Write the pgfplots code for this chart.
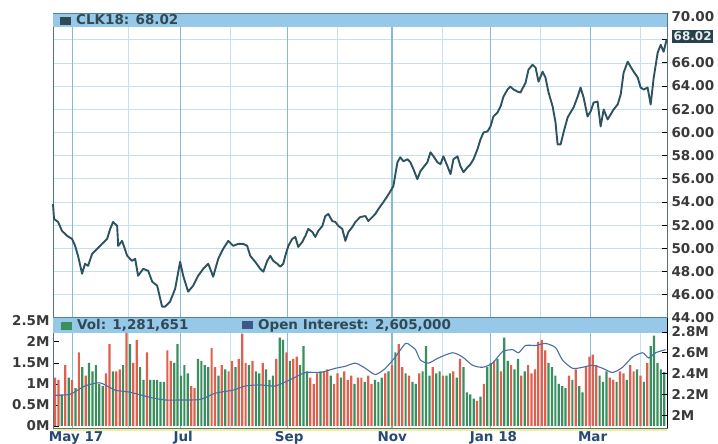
\documentclass[border=0pt]{standalone}
\usepackage{pgfplots}
\pgfplotsset{compat=1.18}
\usepackage{pgfplotstable}
\usepackage{fontspec}
\setmainfont{DejaVu Sans}
\definecolor{hdr}{HTML}{96C8E8}
\definecolor{hdrline}{HTML}{4F7FA3}
\definecolor{gridlt}{HTML}{C6E0EE}
\definecolor{griddk}{HTML}{86BBD6}
\definecolor{priceln}{HTML}{2E5360}
\definecolor{volg}{HTML}{3A8F5E}
\definecolor{volr}{HTML}{E0604F}
\definecolor{oiln}{HTML}{4A6FA5}
\definecolor{lbl}{HTML}{3A3A3A}
\definecolor{xlbl}{HTML}{284878}
\definecolor{frm}{HTML}{55707F}
\definecolor{hdrtxt}{HTML}{2F4A55}
\definecolor{ybase}{HTML}{F2EE9A}

\pgfplotstableread{
d p
-11.2 53.82
-10.6 52.54
-8.2 52.28
-5.9 51.51
-2.9 51.08
0 50.82
1.8 50.22
3.5 49.36
5.9 47.82
7.6 48.67
9.4 48.50
11.8 49.53
14.7 49.96
17.6 50.39
20.6 50.82
22.4 51.68
24.1 52.28
26.5 51.94
27.1 50.22
29.4 50.65
32.4 49.36
35.3 48.93
37.1 49.10
38.8 47.64
41.8 48.24
44.7 48.07
47.1 47.13
50.0 46.79
52.9 44.98
54.7 44.98
57.6 45.41
60.6 46.53
63.5 48.85
65.3 47.64
68.2 46.27
71.2 46.79
74.1 47.64
77.1 48.24
80.0 48.67
81.2 48.24
82.9 47.56
85.9 49.10
88.8 49.96
91.8 50.65
94.7 50.22
97.6 50.39
100.6 50.39
102.9 50.22
104.7 49.36
107.6 48.85
110.6 48.24
112.4 47.99
114.7 48.93
116.5 49.36
118.2 48.93
120.6 48.67
122.4 48.42
124.1 48.67
125.3 49.36
127.1 50.22
129.4 50.82
131.2 50.99
132.9 50.13
135.3 50.56
137.1 51.08
138.8 51.68
141.2 51.42
142.9 50.99
144.7 51.51
147.1 51.94
148.8 52.79
150.6 52.97
152.9 52.36
154.7 52.28
156.5 51.94
158.8 51.68
160.6 50.65
162.4 51.42
164.7 51.85
166.5 52.28
169.4 52.71
172.4 52.79
174.1 52.36
176.5 52.71
178.2 52.97
180.0 53.39
182.9 53.99
185.3 54.51
187.1 54.94
188.8 55.37
191.2 57.43
192.9 57.86
194.7 57.51
197.1 57.69
198.8 57.43
200.6 56.83
202.9 55.97
204.7 56.66
206.5 57.00
208.8 57.43
210.6 58.29
212.4 57.94
214.7 57.43
216.5 57.26
218.2 57.94
220.6 57.09
222.4 56.40
224.1 57.69
226.5 57.94
228.2 57.09
230.0 56.57
232.4 57.00
234.1 57.26
235.9 57.69
238.2 58.54
240.0 59.40
241.8 60.00
244.1 60.09
245.9 60.52
247.6 61.38
250.0 61.72
251.8 62.24
253.5 63.09
255.9 63.70
257.6 63.95
259.4 63.70
261.8 63.52
263.5 63.44
266.5 64.30
268.2 65.41
270.6 65.84
272.4 65.58
274.1 64.38
276.5 65.24
278.2 64.73
280.0 63.44
282.4 62.24
284.1 60.86
285.3 58.97
287.1 58.97
288.8 60.00
291.2 61.29
292.9 61.72
294.7 62.15
297.1 63.09
298.8 63.87
300.6 63.01
302.9 61.38
304.7 61.81
306.5 62.58
308.8 62.66
310.6 60.52
312.4 61.98
314.7 61.12
316.5 61.55
318.2 61.98
320.6 62.41
322.4 63.27
324.1 65.15
326.5 66.10
328.2 65.67
330.0 65.24
332.4 64.73
334.1 63.87
335.9 63.70
338.2 63.87
340.0 62.41
341.8 64.73
344.1 66.87
345.9 67.56
347.6 66.96
349.4 68.02
}\pricetab

\pgfplotstableread{
d v
-6 0.75
-2 1.15
2 0.90
6 1.40
10 1.50
12 1.30
14 1.45
16 1.00
18 0.95
24 1.30
30 1.45
34 1.95
40 1.40
42 1.10
46 1.10
48 1.10
50 1.10
52 1.05
54 1.05
60 1.50
62 1.95
64 1.20
66 1.45
68 1.25
74 1.60
76 1.55
78 1.45
80 1.40
86 1.20
90 1.35
96 1.40
104 1.45
108 1.30
110 1.25
114 1.35
116 1.10
118 1.20
122 2.10
124 2.05
128 1.55
134 1.45
136 1.90
138 1.30
146 1.30
152 1.20
158 1.15
166 1.00
172 1.05
178 1.10
180 1.05
182 1.15
186 1.30
190 1.75
196 1.25
200 1.05
202 1.00
206 1.30
208 1.90
210 1.20
214 1.25
216 1.30
220 1.20
222 1.25
226 1.15
230 1.40
232 0.80
234 0.75
236 0.65
240 0.70
244 1.40
246 1.50
250 1.60
254 2.10
256 1.55
260 1.35
262 1.60
266 1.30
280 1.50
282 1.40
284 1.20
286 1.00
288 0.95
290 0.90
294 1.10
298 0.95
300 0.80
310 1.20
312 1.05
314 1.30
320 1.05
326 1.10
332 1.35
336 1.05
340 1.90
342 2.15
344 1.50
346 1.35
348 1.28
}\greentab

\pgfplotstableread{
d v
-10 1.15
-8 1.10
-4 1.45
0 1.10
4 1.75
8 1.20
20 1.25
22 1.95
26 1.30
28 1.35
32 2.30
36 1.50
38 2.05
44 1.75
56 1.80
58 1.55
70 0.95
72 0.90
82 1.85
84 1.40
88 1.45
92 1.30
94 1.55
98 1.60
100 2.20
102 1.50
106 1.55
112 1.50
120 1.60
126 1.75
130 1.60
132 1.65
140 1.15
142 1.00
144 1.25
148 1.30
150 1.35
154 1.00
156 1.25
160 1.30
162 1.10
164 1.20
168 1.15
170 1.15
174 1.20
176 1.00
184 1.25
188 1.45
192 1.95
194 1.40
198 1.20
204 1.25
212 1.40
218 1.20
224 1.30
228 1.60
238 0.60
242 1.00
248 1.55
252 1.30
258 1.45
264 1.20
268 1.45
270 1.25
272 1.35
274 2.00
276 2.05
278 1.80
292 1.20
296 1.35
302 1.40
304 1.65
306 1.70
308 1.45
316 1.15
318 1.10
322 1.30
324 1.25
328 1.45
330 1.30
334 1.20
338 1.50
}\redtab

\pgfplotstableread{
d oi
-10.0 2.19
-1.2 2.20
7.6 2.28
16.5 2.31
25.3 2.24
34.1 2.22
45.9 2.17
54.7 2.145
63.5 2.145
75.3 2.15
84.1 2.21
94.7 2.24
101.8 2.28
110.6 2.29
119.4 2.28
128.2 2.34
137.1 2.41
145.9 2.41
154.7 2.45
160.6 2.47
166.5 2.50
172.4 2.45
178.2 2.39
184.1 2.45
190.0 2.56
195.9 2.69
198.8 2.67
201.8 2.63
204.7 2.53
209.4 2.50
215.3 2.55
223.5 2.60
229.4 2.56
235.3 2.48
241.2 2.46
247.1 2.50
252.9 2.61
258.8 2.63
262.4 2.60
266.5 2.67
272.4 2.67
278.2 2.69
284.1 2.65
288.2 2.53
294.1 2.45
300.0 2.46
305.9 2.48
311.8 2.45
317.6 2.41
323.5 2.46
329.4 2.56
335.3 2.60
338.8 2.55
342.9 2.60
348.8 2.63
}\oitab

\newcommand{\lblfont}{\fontsize{13.5}{14}\selectfont\bfseries}

\begin{document}
\begin{tikzpicture}
\useasboundingbox (0pt,0pt) rectangle (718pt,444pt);
\fill[white] (0pt,0pt) rectangle (718pt,444pt);
% ---------------- price panel ----------------
\begin{axis}[at={(53pt,126pt)}, anchor=south west, width=614pt, height=305pt, scale only axis,
  xmin=-11.2, xmax=349.6, ymin=44, ymax=70.3,
  axis line style={frm, line width=0.8pt},
  xtick={33,93,156,217.6,275,334}, xticklabels={},
  extra x ticks={0,63.5,126.5,188,246,304.7}, extra x tick labels={},
  extra x tick style={grid style={griddk, line width=1.1pt}},
  xtick style={draw=none},
  xmajorgrids, ymajorgrids, grid style={gridlt, line width=0.7pt},
  ytick={44,46,...,70},
  yticklabels={44.00,46.00,48.00,50.00,52.00,54.00,56.00,58.00,60.00,62.00,64.00,66.00,,70.00},
  ytick pos=right, yticklabel pos=right, tick align=inside,
  ytick style={black, line width=0.9pt}, major tick length=5pt,
  yticklabel style={font=\lblfont, text=lbl, xshift=1pt},
  clip=false]
\addplot[priceln, line width=1.9pt, line join=round] table[x=d, y=p] {\pricetab};
\fill[hdr] (rel axis cs:0,1) rectangle ([yshift=-14pt]rel axis cs:1,1);
\draw[hdrline, line width=0.8pt] (rel axis cs:0,1) -- (rel axis cs:1,1);
\node[anchor=west, inner sep=0pt, font=\lblfont, text=hdrtxt] at ([xshift=7pt, yshift=-7pt]rel axis cs:0,1)
  {\textcolor{hdrtxt}{\rule{11pt}{8pt}}\hspace{5pt}CLK18: 68.02};
\end{axis}
\node[anchor=west, fill=priceln!80!black, text=white!85!gray, inner sep=1.5pt, font=\fontsize{12}{12}\selectfont\bfseries] at (672pt,407.5pt) {68.02};
% ---------------- volume panel ----------------
\fill[ybase] (53pt,12.5pt) rectangle (667pt,16pt);
\begin{axis}[at={(53pt,16pt)}, anchor=south west, width=614pt, height=110pt, scale only axis,
  xmin=-11.2, xmax=349.6, ymin=-0.048, ymax=2.57,
  axis line style={frm, line width=0.8pt},
  xtick={33,93,156,217.6,275,334}, xticklabels={},
  extra x ticks={0,63.5,126.5,188,246,304.7}, extra x tick labels={},
  extra x tick style={grid style={griddk, line width=1.1pt}},
  xtick style={draw=none},
  xmajorgrids, grid style={gridlt, line width=0.7pt},
  ytick={0,0.5,1,1.5,2,2.5}, yticklabels={0M,0.5M,1M,1.5M,2M,2.5M},
  ytick pos=left, tick align=inside,
  ytick style={black, line width=0.9pt}, major tick length=6pt,
  yticklabel style={font=\lblfont, text=lbl},
  clip=false]
\addplot[ybar, bar width=2.2pt, bar shift=0pt, fill=volg, draw=none] table[x=d, y=v] {\greentab};
\addplot[ybar, bar width=2.2pt, bar shift=0pt, fill=volr, draw=none] table[x=d, y=v] {\redtab};
\fill[hdr] (rel axis cs:0,1) rectangle ([yshift=-15pt]rel axis cs:1,1);
\draw[hdrline, line width=1pt] (rel axis cs:0,1) -- (rel axis cs:1,1);
\node[anchor=west, inner sep=0pt, font=\lblfont, text=hdrtxt] at ([xshift=8pt, yshift=-7.5pt]rel axis cs:0,1)
  {\textcolor{volg}{\rule{11pt}{8pt}}\hspace{5pt}Vol: 1,281,651};
\node[anchor=west, inner sep=0pt, font=\lblfont, text=hdrtxt] at ([xshift=189pt, yshift=-7.5pt]rel axis cs:0,1)
  {\textcolor{oiln!80!black}{\rule{11pt}{8pt}}\hspace{5pt}Open Interest: 2,605,000};
\node[anchor=north, inner sep=0pt, font=\lblfont, text=xlbl] at (axis cs:2.4,-0.048) [yshift=-3pt] {May 17};
\node[anchor=north, inner sep=0pt, font=\lblfont, text=xlbl] at (axis cs:65.3,-0.048) [yshift=-3pt] {Jul};
\node[anchor=north, inner sep=0pt, font=\lblfont, text=xlbl] at (axis cs:127.6,-0.048) [yshift=-3pt] {Sep};
\node[anchor=north, inner sep=0pt, font=\lblfont, text=xlbl] at (axis cs:188.2,-0.048) [yshift=-3pt] {Nov};
\node[anchor=north, inner sep=0pt, font=\lblfont, text=xlbl] at (axis cs:247.6,-0.048) [yshift=-3pt] {Jan 18};
\node[anchor=north, inner sep=0pt, font=\lblfont, text=xlbl] at (axis cs:305.9,-0.048) [yshift=-3pt] {Mar};
\end{axis}
\begin{axis}[at={(53pt,16pt)}, anchor=south west, width=614pt, height=110pt, scale only axis,
  xmin=-11.2, xmax=349.6, ymin=1.875, ymax=2.935,
  axis x line=none, axis y line*=right,
  axis line style={black, line width=0.9pt},
  ytick={2,2.2,2.4,2.6,2.8}, yticklabels={2M,2.2M,2.4M,2.6M,2.8M},
  tick align=inside, ytick style={black, line width=0.9pt}, major tick length=5pt,
  yticklabel style={font=\lblfont, text=lbl, xshift=1pt}]
\addplot[oiln, line width=1.1pt, smooth, tension=0.4] table[x=d, y=oi] {\oitab};
\end{axis}
\end{tikzpicture}
\end{document}
